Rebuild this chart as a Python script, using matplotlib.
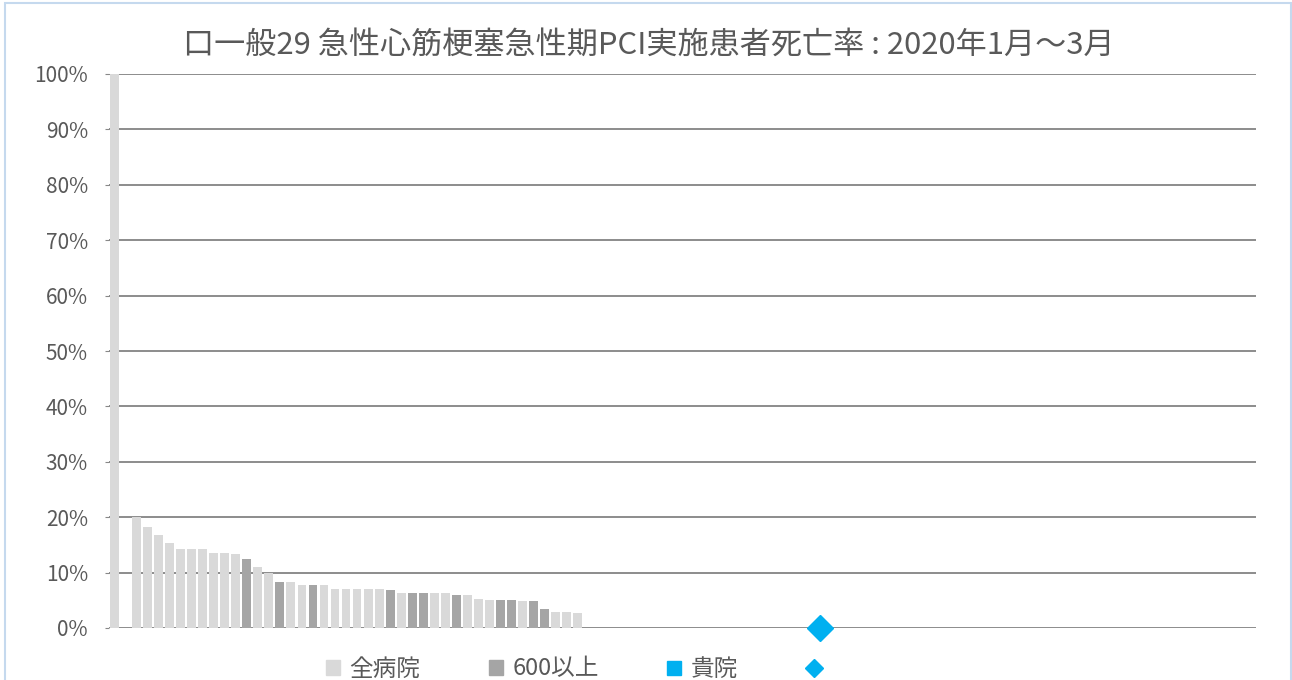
import numpy as np
import matplotlib
matplotlib.use('Agg')
import matplotlib.pyplot as plt
from matplotlib.patches import Patch, Rectangle
from matplotlib.lines import Line2D
from matplotlib.ticker import FuncFormatter, MultipleLocator

plt.rcParams['font.family'] = ['Noto Sans CJK JP', 'DejaVu Sans']

# ---------------------------------------------------------------------------
# data (% per hospital, sorted)
# ---------------------------------------------------------------------------
TITLE = '口一般29 急性心筋梗塞急性期PCI実施患者死亡率 : 2020年1月～3月'
N_CATS = 104

# rate of each ranked hospital (None = no bar)
rates = [100.0, None, 20.0, 18.2, 16.7, 15.4, 14.3, 14.3, 14.3, 13.6,
         13.6, 13.3, 12.5, 11.1, 10.0, 8.3, 8.3, 7.7, 7.7, 7.7,
         7.1, 7.1, 7.1, 7.1, 7.1, 6.8, 6.25, 6.25, 6.25, 6.25,
         6.25, 5.9, 5.9, 5.2, 5.0, 5.0, 5.0, 4.8, 4.8, 3.4,
         2.9, 2.9, 2.7]
# 1 = hospital with 600+ beds
big = [0, 0, 0, 0, 0, 0, 0, 0, 0, 0,
       0, 0, 1, 0, 0, 1, 0, 0, 1, 0,
       0, 0, 0, 0, 0, 1, 0, 1, 1, 0,
       0, 1, 0, 0, 0, 1, 1, 0, 1, 1,
       0, 0, 0]
own_rank = 64
own_rate = 0.0

LABELS = ['全病院', '600以上', '貴院', '']
C_ALL = '#D9D9D9'
C_BIG = '#A5A5A5'
C_OWN = '#00B0F0'
C_TXT = '#595959'

# ---------------------------------------------------------------------------
x = np.arange(len(rates))
h = np.array([np.nan if r is None else r / 100 for r in rates])
cols = [C_BIG if b else C_ALL for b in big]

fig = plt.figure(figsize=(12.92, 6.8), dpi=100)
ax = fig.add_axes([108.9 / 1292, 1 - 628 / 680, (1256 - 108.9) / 1292, (628 - 74) / 680])

ax.bar(x, np.nan_to_num(h), width=0.8, color=cols, zorder=2)
ax.plot([own_rank], [own_rate], marker='D', ms=13, color=C_OWN, ls='none',
        zorder=4, clip_on=False)

ax.set_xlim(-0.5, N_CATS - 0.5)
ax.set_ylim(0, 1)
ax.yaxis.set_major_locator(MultipleLocator(0.1))
ax.yaxis.set_major_formatter(FuncFormatter(lambda v, p: '{:.0f}%'.format(v * 100)))
ax.set_xticks([])
ax.tick_params(axis='y', labelsize=15, labelcolor=C_TXT, length=3, color='#888888', pad=12)
ax.set_axisbelow(True)
ax.yaxis.grid(True, color='#8C8C8C', lw=1.4, zorder=0)
for s in ax.spines.values():
    s.set_visible(False)

fig.text(649 / 1292, 1 - 45 / 680, TITLE, ha='center', va='center',
         fontsize=22.4, color=C_TXT)

handles = [Patch(color=C_ALL), Patch(color=C_BIG),
           Line2D([], [], marker='s', ms=9.5, color=C_OWN, ls='none'),
           Line2D([], [], marker='D', ms=9, color=C_OWN, ls='none')]
fig.legend(handles, LABELS, loc='center', ncol=4, frameon=False,
           bbox_to_anchor=(578 / 1292, 1 - 669 / 680), fontsize=17,
           labelcolor=C_TXT, handlelength=0.6, handleheight=0.6,
           handletextpad=0.4, columnspacing=2.9)

# light blue frame round the chart
fig.patches.append(Rectangle((5 / 1292, -0.05), 1286 / 1292, 1.05 - 3 / 680,
                             transform=fig.transFigure, fill=False,
                             ec='#C5D9EE', lw=1.5))

fig.savefig('out.png', dpi=100)
